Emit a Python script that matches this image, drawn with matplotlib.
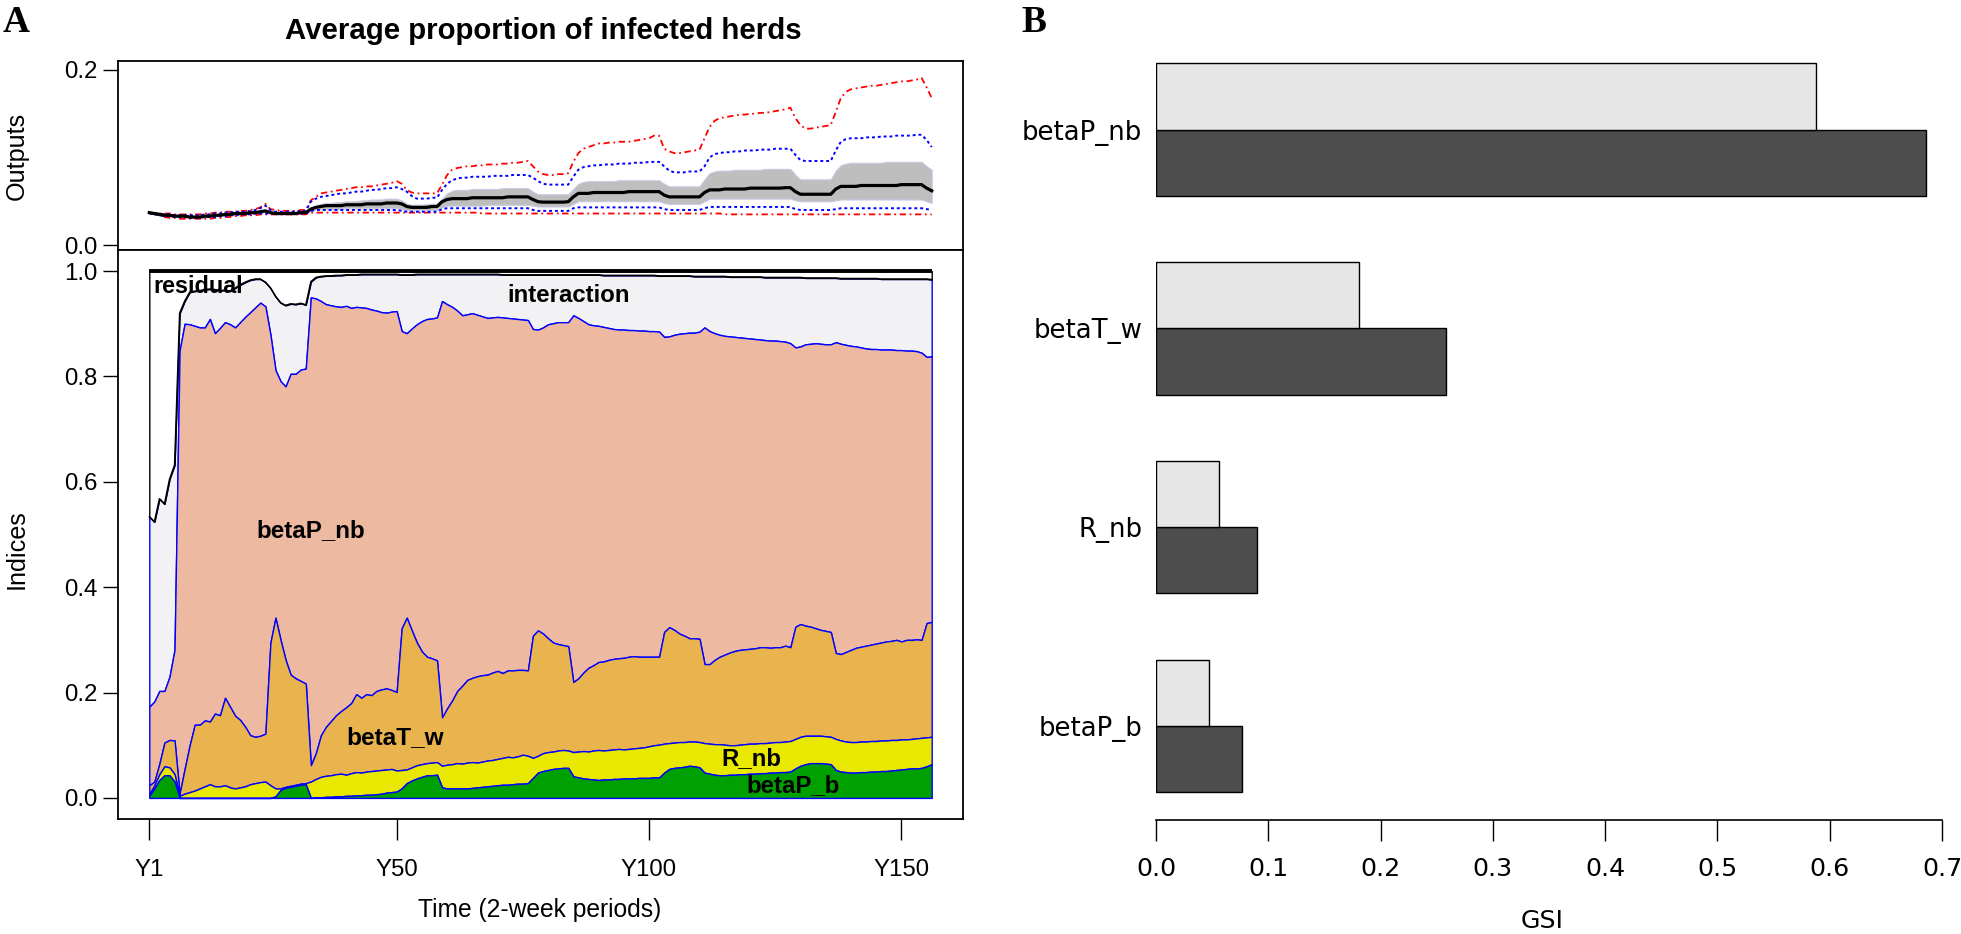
import numpy as np
import matplotlib
matplotlib.use('Agg')
import matplotlib.pyplot as plt
from matplotlib import font_manager as fm

# ---------------------------------------------------------------- data
periods = np.arange(1, 157)
xtick_pos = [1, 50, 100, 150]
xtick_lab = ['Y1', 'Y50', 'Y100', 'Y150']

# Panel A, top: average proportion of infected herds
out_mean = [
    .037,.036,.035,.034,.034,.033,.033,.033,.032,.032,.032,.033,.033,.034,.034,.035,.035,.036,.036,.036,.037,.037,.038,.039,.037,.036,
    .036,.036,.036,.036,.037,.037,.041,.043,.044,.045,.045,.045,.045,.046,.046,.046,.046,.047,.047,.047,.047,.048,.048,.048,.047,.044,
    .043,.043,.043,.043,.044,.044,.0495,.052,.053,.053,.053,.053,.054,.054,.054,.054,.054,.054,.054,.055,.055,.055,.055,.055,.052,.0495,
    .049,.049,.049,.049,.049,.0495,.055,.059,.059,.059,.060,.060,.060,.060,.060,.060,.060,.061,.061,.061,.061,.061,.061,.061,.057,.055,
    .055,.055,.055,.055,.055,.055,.060,.063,.063,.063,.064,.064,.064,.064,.064,.065,.065,.065,.065,.065,.065,.065,.0655,.0655,.061,.058,
    .058,.058,.058,.058,.058,.058,.064,.067,.067,.067,.067,.068,.068,.068,.068,.068,.068,.068,.068,.069,.069,.069,.069,.069,.065,.062]
out_band_hi = [
    .037,.036,.035,.035,.035,.034,.034,.034,.033,.033,.033,.034,.034,.035,.035,.036,.036,.037,.037,.037,.038,.038,.039,.040,.038,.037,
    .037,.037,.037,.037,.038,.038,.043,.045,.047,.048,.048,.049,.049,.050,.050,.050,.051,.051,.052,.052,.052,.053,.053,.053,.051,.047,
    .046,.046,.046,.047,.047,.047,.053,.059,.062,.063,.063,.063,.064,.064,.064,.064,.064,.064,.065,.065,.065,.065,.065,.065,.061,.058,
    .058,.058,.058,.058,.058,.058,.064,.070,.072,.073,.073,.073,.073,.073,.073,.074,.074,.074,.074,.074,.074,.074,.074,.074,.070,.067,
    .067,.067,.067,.067,.067,.067,.075,.082,.084,.085,.085,.085,.086,.086,.086,.086,.086,.086,.087,.087,.087,.087,.087,.087,.080,.075,
    .075,.075,.075,.075,.075,.075,.085,.091,.093,.094,.094,.094,.094,.094,.094,.094,.095,.095,.095,.095,.095,.095,.095,.095,.090,.086]
out_band_lo = [
    .036,.035,.034,.033,.033,.032,.032,.032,.031,.031,.031,.032,.032,.033,.033,.034,.034,.035,.035,.035,.036,.036,.037,.038,.036,.035,
    .035,.035,.035,.035,.036,.036,.039,.041,.041,.041,.041,.041,.041,.042,.042,.042,.042,.042,.042,.042,.042,.042,.042,.042,.041,.040,
    .040,.040,.040,.040,.040,.040,.043,.045,.045,.045,.045,.045,.045,.045,.045,.046,.046,.046,.046,.046,.046,.046,.046,.046,.045,.044,
    .044,.044,.044,.044,.044,.044,.047,.050,.050,.050,.050,.050,.050,.050,.050,.050,.050,.050,.050,.050,.050,.050,.050,.050,.048,.047,
    .047,.047,.047,.047,.047,.047,.050,.053,.053,.053,.053,.053,.053,.053,.053,.053,.053,.053,.053,.053,.053,.053,.053,.053,.051,.050,
    .050,.050,.050,.050,.050,.050,.051,.052,.052,.052,.052,.052,.052,.052,.052,.052,.052,.052,.052,.052,.052,.052,.052,.052,.050,.048]
out_q_hi = [
    .037,.036,.036,.035,.035,.034,.034,.034,.034,.034,.034,.035,.035,.036,.036,.037,.037,.038,.038,.038,.039,.040,.042,.045,.040,.038,
    .038,.038,.038,.038,.039,.039,.0495,.053,.055,.056,.057,.058,.059,.059,.060,.061,.061,.062,.063,.063,.064,.065,.065,.066,.064,.061,
    .056,.053,.053,.053,.054,.054,.063,.070,.074,.076,.077,.077,.078,.078,.078,.078,.079,.079,.079,.079,.080,.080,.080,.080,.077,.073,
    .070,.069,.069,.069,.069,.069,.078,.086,.089,.090,.091,.091,.092,.092,.092,.093,.093,.093,.094,.094,.094,.095,.095,.095,.090,.085,
    .083,.083,.083,.084,.084,.084,.090,.100,.104,.105,.106,.106,.107,.107,.108,.108,.108,.109,.109,.109,.110,.110,.110,.110,.103,.097,
    .096,.096,.096,.096,.096,.096,.108,.118,.121,.122,.122,.122,.123,.123,.123,.124,.124,.124,.125,.125,.125,.125,.126,.126,.120,.112]
out_q_lo = [
    .036,.035,.034,.033,.033,.032,.032,.032,.031,.031,.031,.032,.032,.032,.033,.033,.034,.034,.035,.035,.035,.036,.036,.036,.036,.036,
    .036,.036,.036,.036,.036,.036,.039,.040,.040,.040,.040,.040,.040,.040,.040,.040,.040,.040,.040,.040,.040,.040,.040,.040,.039,.038,
    .038,.038,.038,.038,.038,.038,.041,.042,.042,.042,.042,.042,.042,.042,.042,.042,.042,.042,.042,.042,.042,.042,.042,.042,.040,.039,
    .039,.039,.039,.039,.039,.039,.042,.043,.043,.043,.043,.043,.043,.043,.043,.043,.043,.043,.043,.043,.043,.043,.043,.043,.041,.040,
    .040,.040,.040,.040,.040,.040,.042,.0435,.0435,.0435,.0435,.0435,.0435,.0435,.0435,.0435,.0435,.0435,.0435,.0435,.0435,.0435,.0435,.0435,.041,.040,
    .040,.040,.040,.040,.040,.040,.041,.042,.042,.042,.042,.042,.042,.042,.042,.042,.042,.042,.042,.042,.042,.042,.042,.042,.041,.040]
out_max = [
    .037,.036,.036,.036,.036,.035,.035,.035,.035,.035,.035,.036,.036,.037,.037,.038,.038,.038,.039,.039,.040,.041,.043,.047,.041,.040,
    .039,.039,.039,.039,.040,.040,.051,.055,.059,.060,.061,.062,.063,.064,.065,.066,.066,.067,.067,.068,.069,.070,.071,.073,.070,.063,
    .060,.059,.059,.059,.059,.059,.069,.080,.086,.088,.089,.090,.090,.091,.091,.092,.092,.092,.093,.093,.094,.094,.095,.096,.090,.084,
    .081,.080,.080,.081,.081,.082,.095,.105,.110,.112,.114,.116,.116,.117,.117,.118,.118,.118,.119,.120,.121,.122,.125,.125,.110,.107,
    .105,.105,.106,.107,.108,.109,.122,.135,.142,.145,.146,.147,.148,.149,.149,.150,.150,.151,.151,.152,.153,.154,.155,.157,.145,.137,
    .133,.133,.134,.135,.136,.137,.152,.168,.175,.178,.179,.180,.181,.182,.182,.183,.184,.185,.186,.187,.187,.188,.189,.191,.180,.168]
out_min = [
    .037,.035,.034,.032,.031,.031,.030,.030,.030,.030,.030,.030,.030,.031,.031,.032,.032,.033,.033,.034,.034,.034,.035,.035,.035,.035,
    .035,.035,.035,.035,.035,.035,.037,.037,.037,.037,.037,.037,.037,.037,.037,.037,.037,.037,.037,.037,.037,.037,.037,.037,.037,.037,
    .037,.037,.037,.037,.037,.037,.037,.037,.037,.037,.037,.037,.037,.037,.036,.036,.036,.036,.036,.036,.036,.036,.036,.036,.036,.036,
    .036,.036,.036,.036,.036,.036,.036,.036,.036,.036,.036,.036,.036,.036,.036,.036,.036,.036,.036,.036,.036,.036,.036,.036,.036,.036,
    .036,.036,.036,.036,.036,.036,.036,.036,.036,.036,.035,.035,.035,.035,.035,.035,.035,.035,.035,.035,.035,.035,.035,.035,.035,.035,
    .035,.035,.035,.035,.035,.035,.035,.035,.035,.035,.035,.035,.035,.035,.035,.035,.035,.035,.035,.035,.035,.035,.035,.035,.035,.035]

# Panel A, bottom: cumulative sensitivity indices (upper edge of each stacked band)
cum_betaP_b = [
    .004,.018,.034,.043,.043,.031,0,0,0,0,0,0,0,0,0,0,0,0,0,0,0,0,0,0,0,.003,
    .015,.019,.021,.023,.025,.026,0,.001,.001,.002,.002,.003,.003,.004,.004,.005,.005,.006,.006,.007,.008,.010,.011,.012,.018,.028,
    .033,.037,.040,.043,.043,.044,.020,.018,.018,.018,.018,.018,.019,.020,.021,.022,.023,.024,.025,.025,.026,.027,.027,.028,.038,.048,
    .051,.053,.055,.056,.057,.057,.041,.039,.037,.036,.035,.034,.035,.035,.036,.036,.037,.037,.037,.038,.038,.038,.039,.039,.048,.055,
    .057,.058,.059,.061,.060,.058,.048,.046,.044,.043,.043,.044,.044,.045,.045,.046,.046,.047,.047,.048,.048,.049,.049,.050,.056,.061,
    .064,.066,.066,.066,.065,.064,.053,.050,.049,.048,.048,.049,.049,.050,.050,.051,.051,.052,.053,.054,.055,.056,.056,.057,.060,.064]
cum_R_nb = [
    .007,.024,.045,.060,.058,.045,.004,.008,.011,.014,.018,.022,.026,.022,.022,.024,.020,.018,.020,.022,.026,.028,.030,.031,.024,.018,
    .018,.021,.023,.025,.027,.028,.031,.036,.040,.042,.043,.045,.046,.044,.047,.049,.048,.050,.051,.052,.053,.054,.055,.052,.053,.054,
    .058,.062,.064,.066,.067,.068,.061,.063,.064,.066,.065,.067,.068,.067,.069,.071,.072,.074,.076,.078,.077,.079,.082,.080,.076,.080,
    .085,.087,.088,.090,.091,.090,.087,.088,.089,.088,.090,.091,.090,.091,.092,.093,.092,.093,.094,.095,.096,.098,.100,.101,.103,.104,
    .105,.106,.106,.107,.107,.106,.104,.103,.102,.102,.101,.100,.100,.101,.102,.103,.103,.104,.104,.105,.106,.106,.107,.108,.112,.116,
    .118,.118,.118,.118,.117,.116,.112,.109,.107,.106,.106,.107,.107,.108,.108,.109,.109,.110,.110,.111,.111,.112,.113,.114,.115,.116]
cum_betaT_w = [
    .024,.031,.065,.105,.110,.109,.008,.055,.100,.139,.139,.147,.145,.160,.157,.190,.173,.156,.148,.135,.119,.116,.118,.122,.295,.342,
    .300,.262,.234,.227,.222,.217,.062,.085,.119,.135,.146,.157,.165,.172,.180,.197,.190,.197,.195,.203,.206,.208,.205,.201,.322,.342,
    .318,.295,.278,.268,.265,.261,.153,.170,.185,.203,.213,.224,.228,.231,.233,.234,.238,.241,.237,.242,.242,.243,.243,.242,.308,.318,
    .312,.303,.295,.292,.290,.288,.220,.227,.238,.247,.252,.258,.259,.262,.264,.265,.266,.268,.269,.268,.268,.268,.268,.268,.315,.324,
    .319,.312,.308,.303,.303,.302,.254,.254,.262,.268,.272,.276,.279,.281,.282,.283,.284,.286,.286,.285,.286,.286,.289,.286,.325,.330,
    .327,.325,.322,.319,.317,.315,.275,.273,.277,.281,.285,.287,.289,.291,.293,.295,.297,.298,.300,.297,.300,.300,.301,.300,.332,.334]
cum_betaP_nb = [
    .173,.183,.203,.203,.230,.281,.849,.900,.899,.896,.893,.893,.909,.882,.892,.903,.899,.893,.903,.913,.922,.931,.940,.933,.879,.812,
    .791,.781,.805,.805,.813,.815,.950,.948,.943,.937,.935,.933,.932,.934,.930,.932,.931,.930,.927,.925,.922,.921,.923,.924,.886,.882,
    .891,.899,.905,.909,.910,.912,.943,.937,.932,.925,.916,.918,.920,.917,.914,.911,.912,.913,.912,.911,.910,.909,.908,.907,.890,.889,
    .893,.899,.901,.903,.903,.903,.916,.911,.905,.899,.897,.896,.894,.892,.890,.889,.889,.888,.888,.887,.887,.886,.886,.885,.875,.876,
    .879,.881,.882,.883,.883,.885,.893,.886,.882,.879,.877,.876,.875,.874,.873,.872,.871,.870,.869,.868,.868,.867,.866,.863,.855,.857,
    .861,.862,.863,.862,.861,.861,.865,.862,.860,.858,.857,.855,.853,.852,.852,.851,.851,.851,.850,.850,.849,.849,.848,.845,.837,.838]
cum_total = [
    .534,.524,.568,.558,.605,.632,.920,.943,.960,.962,.963,.965,.966,.965,.963,.964,.962,.968,.974,.979,.983,.985,.985,.979,.968,.952,
    .940,.935,.938,.937,.939,.936,.980,.988,.990,.991,.991,.992,.992,.993,.993,.993,.994,.994,.994,.994,.994,.994,.994,.994,.993,.993,
    .993,.994,.994,.994,.994,.994,.994,.994,.994,.994,.994,.994,.994,.994,.994,.994,.994,.994,.993,.993,.993,.993,.993,.993,.993,.993,
    .993,.993,.993,.993,.993,.993,.993,.993,.993,.993,.993,.993,.992,.992,.992,.992,.992,.992,.992,.992,.992,.992,.992,.991,.991,.991,
    .991,.991,.991,.991,.990,.990,.990,.990,.990,.990,.990,.989,.989,.989,.989,.989,.989,.989,.988,.988,.988,.988,.988,.988,.988,.988,
    .987,.987,.987,.987,.987,.987,.987,.986,.986,.986,.986,.986,.986,.986,.986,.985,.985,.985,.985,.985,.985,.985,.985,.985,.985,.984]

# Panel B: generalised sensitivity indices
gsi_params = ['betaP_nb', 'betaT_w', 'R_nb', 'betaP_b']
gsi_main = [0.588, 0.181, 0.056, 0.047]
gsi_total = [0.686, 0.258, 0.090, 0.077]
gsi_ticks = [0.0, 0.1, 0.2, 0.3, 0.4, 0.5, 0.6, 0.7]

# ---------------------------------------------------------------- fonts
names = {f.name for f in fm.fontManager.ttflist}
SANS = 'Liberation Sans' if 'Liberation Sans' in names else 'DejaVu Sans'
NARROW = 'Liberation Sans Narrow' if 'Liberation Sans Narrow' in names else SANS
SERIF = 'Liberation Serif' if 'Liberation Serif' in names else 'DejaVu Serif'
plt.rcParams['font.family'] = [NARROW, 'DejaVu Sans']

W, H, DPI = 1961, 934, 100
fig = plt.figure(figsize=(W / DPI, H / DPI), dpi=DPI)
fig.patch.set_facecolor('white')


def px_axes(l, r, t, b):
    return fig.add_axes([l / W, 1 - b / H, (r - l) / W, (b - t) / H])


def fit(txt, target):
    rend = fig.canvas.get_renderer()
    for _ in range(4):
        cur = txt.get_window_extent(rend).width
        if cur > 0:
            txt.set_fontsize(txt.get_fontsize() * target / cur)


def probe_size(s, target, family, weight='normal'):
    t = fig.text(0, 0, s, family=family, weight=weight, fontsize=20)
    fit(t, target)
    fs = t.get_fontsize()
    t.remove()
    return fs


fsA = probe_size('Y150', 56, [NARROW, 'DejaVu Sans'])
fsBlab = probe_size('betaP_nb', 121, ['DejaVu Sans'])
fsBtick = fsBlab * 0.97

SALMON = '#EEB9A1'
ORANGE = '#E9B44E'
YELLOW = '#E8E800'
GREEN = '#00A000'
INTER = '#F2F2F4'

# ---------------------------------------------------------------- panel A top
axT = px_axes(118, 963, 61, 250)
xl = (-5.2, 162.2)
axT.set_xlim(*xl)
axT.set_ylim((245 - 250) / 875, (245 - 61) / 875)
axT.fill_between(periods, out_band_lo, out_band_hi, facecolor='#BEBEBE',
                 edgecolor='#C8C8E4', linewidth=0.8, zorder=1)
axT.plot(periods, out_max, color='red', lw=1.3, ls=(0, (3.5, 2, 1, 2)), zorder=2)
axT.plot(periods, out_min, color='red', lw=1.3, ls=(0, (3.5, 2, 1, 2)), zorder=2)
axT.plot(periods, out_q_hi, color='blue', lw=1.4, ls=(0, (1.5, 1.5)), zorder=3)
axT.plot(periods, out_q_lo, color='blue', lw=1.4, ls=(0, (1.5, 1.5)), zorder=3)
axT.plot(periods, out_mean, color='black', lw=2.3, zorder=4)
axT.set_xticks([])
axT.set_yticks([0.0, 0.2])
axT.set_yticklabels(['0.0', '0.2'], fontsize=fsA)
axT.tick_params(axis='y', length=11, width=1, pad=4)

# ---------------------------------------------------------------- panel A bottom
axB = px_axes(118, 963, 250, 819)
axB.set_xlim(*xl)
axB.set_ylim(-0.04, 1.04)
axB.fill_between(periods, cum_betaP_nb, cum_total, facecolor=INTER,
                 edgecolor='blue', linewidth=1.0, zorder=1)
axB.fill_between(periods, cum_total, 1.0, facecolor='white',
                 edgecolor='black', linewidth=1.0, zorder=1)
axB.fill_between(periods, cum_betaT_w, cum_betaP_nb, facecolor=SALMON,
                 edgecolor='blue', linewidth=1.0, zorder=2)
axB.fill_between(periods, cum_R_nb, cum_betaT_w, facecolor=ORANGE,
                 edgecolor='blue', linewidth=1.0, zorder=3)
axB.fill_between(periods, cum_betaP_b, cum_R_nb, facecolor=YELLOW,
                 edgecolor='blue', linewidth=1.0, zorder=4)
axB.fill_between(periods, 0, cum_betaP_b, facecolor=GREEN,
                 edgecolor='blue', linewidth=1.0, zorder=5)
axB.plot(periods, cum_total, color='black', lw=1.0, zorder=6)
axB.hlines(1.0, periods[0], periods[-1], color='black', lw=2.8, zorder=7)

labels_A = [('residual', 10.7, 0.971, 90), ('interaction', 84, 0.953, 123),
            ('betaP_nb', 33.1, 0.508, 109), ('betaT_w', 49.7, 0.115, 98),
            ('R_nb', 120.2, 0.075, 60), ('betaP_b', 128.5, 0.024, 93)]
for s, xx, yy, wpx in labels_A:
    t = axB.text(xx, yy, s, ha='center', va='center', weight='bold',
                 family=[SANS, 'DejaVu Sans'], fontsize=16, zorder=8)
    fit(t, wpx)

axB.set_xticks(xtick_pos)
axB.set_xticklabels(xtick_lab, fontsize=fsA)
axB.set_yticks([0.0, 0.2, 0.4, 0.6, 0.8, 1.0])
axB.set_yticklabels(['0.0', '0.2', '0.4', '0.6', '0.8', '1.0'], fontsize=fsA)
axB.tick_params(axis='x', length=15, width=1, pad=14)
axB.tick_params(axis='y', length=11, width=1, pad=4)

for ax in (axT, axB):
    for sp in ax.spines.values():
        sp.set_linewidth(1.3)

# labels for panel A
tt = fig.text(543 / W, 1 - 31 / H, 'Average proportion of infected herds',
              ha='center', va='center', weight='bold', fontsize=20)
fit(tt, 517)
tx = fig.text(540 / W, 1 - 910 / H, 'Time (2-week periods)', ha='center',
              va='center', fontsize=18)
fit(tx, 243)
fig.text(17 / W, 1 - 156 / H, 'Outputs', ha='center', va='center',
         rotation=90, fontsize=fsA * 1.05)
fig.text(17 / W, 1 - 549 / H, 'Indices', ha='center', va='center',
         rotation=90, fontsize=fsA * 1.05)

# ---------------------------------------------------------------- panel B
axG = px_axes(1156, 1942, 40, 820)
pos = np.arange(len(gsi_params))[::-1] * 3.0
axG.barh(pos, gsi_total, height=1.0, align='edge', color='#4D4D4D',
         edgecolor='black', linewidth=1.0)
axG.barh(pos + 1.0, gsi_main, height=1.0, align='edge', color='#E6E6E6',
         edgecolor='black', linewidth=1.0)
axG.set_xlim(0, 0.7)
axG.set_ylim(-28 / 66.23, 752 / 66.23)
for k in ('top', 'right', 'left'):
    axG.spines[k].set_visible(False)
axG.spines['bottom'].set_linewidth(1.2)
axG.set_yticks(pos + 1.0)
axG.set_yticklabels(gsi_params, family=['DejaVu Sans'], fontsize=fsBlab)
axG.tick_params(axis='y', length=0, pad=10)
axG.set_xticks(gsi_ticks)
axG.set_xticklabels(['%.1f' % v for v in gsi_ticks], family=['DejaVu Sans'],
                    fontsize=fsBtick)
axG.tick_params(axis='x', length=15, width=1, pad=12)
fig.text(1542 / W, 1 - 921 / H, 'GSI', ha='center', va='center',
         family=['DejaVu Sans'], fontsize=fsBtick)

# panel letters
fig.text(3 / W, 1 - 5 / H, 'A', ha='left', va='top', family=[SERIF],
         weight='bold', fontsize=27)
fig.text(1021 / W, 1 - 5 / H, 'B', ha='left', va='top', family=[SERIF],
         weight='bold', fontsize=27)

fig.savefig('out.png', dpi=DPI, facecolor='white')
